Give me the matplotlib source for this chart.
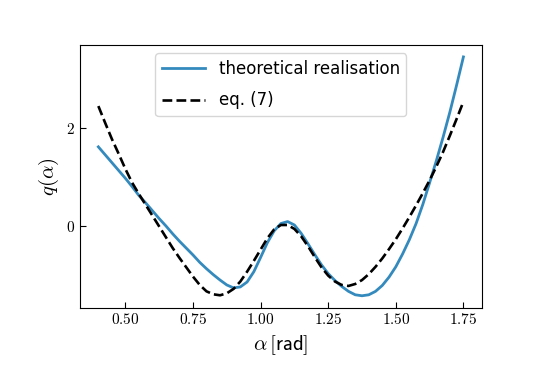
import matplotlib
matplotlib.use('Agg')

import numpy as np
import matplotlib.pyplot as plt
from matplotlib.ticker import FuncFormatter

plt.rcParams['mathtext.fontset'] = 'cm'

# valores
alpha_theo = [0.400, 0.425, 0.450, 0.475, 0.500, 0.525, 0.550, 0.575, 0.600, 0.625,
              0.650, 0.675, 0.700, 0.725, 0.750, 0.775, 0.800, 0.825, 0.850, 0.875,
              0.900, 0.925, 0.950, 0.975, 1.000, 1.025, 1.050, 1.075, 1.100, 1.125,
              1.150, 1.175, 1.200, 1.225, 1.250, 1.275, 1.300, 1.325, 1.350, 1.375,
              1.400, 1.425, 1.450, 1.475, 1.500, 1.525, 1.550, 1.575, 1.600, 1.625,
              1.650, 1.675, 1.700, 1.725, 1.750]
q_theo = [1.62, 1.46, 1.30, 1.14, 0.98, 0.81, 0.63, 0.48, 0.32, 0.16,
          0.01, -0.15, -0.30, -0.44, -0.58, -0.73, -0.86, -0.98, -1.09, -1.19,
          -1.25, -1.23, -1.13, -0.92, -0.63, -0.33, -0.09, 0.06, 0.10, 0.03,
          -0.14, -0.35, -0.57, -0.78, -0.96, -1.10, -1.22, -1.32, -1.39, -1.41,
          -1.39, -1.32, -1.20, -1.03, -0.82, -0.56, -0.27, 0.06, 0.45, 0.89,
          1.34, 1.82, 2.33, 2.88, 3.45]

alpha_eq7 = alpha_theo
q_eq7 = [2.45, 2.11, 1.78, 1.48, 1.17, 0.89, 0.66, 0.44, 0.22, 0.00,
         -0.22, -0.44, -0.64, -0.83, -1.02, -1.19, -1.32, -1.38, -1.40, -1.36,
         -1.27, -1.12, -0.92, -0.70, -0.47, -0.24, -0.06, 0.03, 0.03, -0.05,
         -0.20, -0.40, -0.62, -0.83, -1.00, -1.12, -1.19, -1.21, -1.17, -1.09,
         -0.97, -0.82, -0.65, -0.46, -0.26, -0.04, 0.19, 0.43, 0.68, 0.94,
         1.22, 1.52, 1.85, 2.19, 2.54]

xticks = [0.50, 0.75, 1.00, 1.25, 1.50, 1.75]
yticks = [0, 2]

fig = plt.figure(figsize=(5.34, 3.76), dpi=100)
ax = fig.add_axes([0.150, 0.182, 0.752, 0.698])

ax.plot(alpha_theo, q_theo, color='#348ABD', lw=2, label='theoretical realisation')
ax.plot(alpha_eq7, q_eq7, color='black', lw=1.9, ls='--', label='eq. (7)')

ax.set_xticks(xticks)
ax.set_yticks(yticks)
ax.xaxis.set_major_formatter(FuncFormatter(lambda v, p: r'$%.2f$' % v))
ax.yaxis.set_major_formatter(FuncFormatter(lambda v, p: r'$%d$' % v))
ax.tick_params(direction='in', labelsize=11, length=4)
ax.set_ylim(-1.65, 3.69)

ax.set_xlabel(r'$\alpha\,[\mathsf{rad}]$', fontsize=15)
ax.set_ylabel(r'$q(\alpha)$', fontsize=15)

ax.legend(loc='upper center', fontsize=12, handlelength=2.6, labelspacing=0.8)

plt.savefig('out.png', dpi=100)
